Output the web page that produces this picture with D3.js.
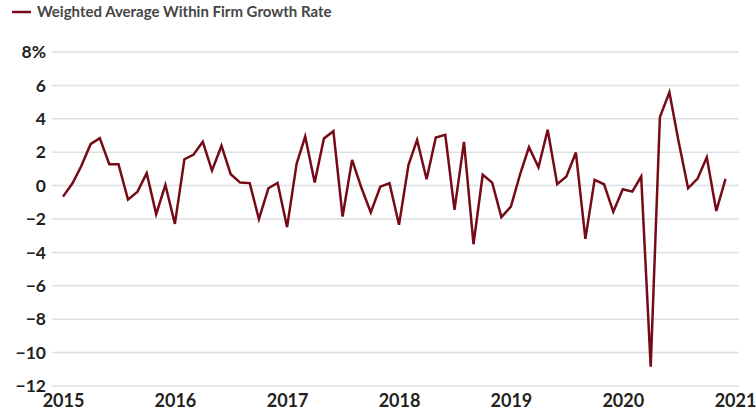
<!DOCTYPE html>
<html>
<head>
<meta charset="utf-8">
<script src="https://cdn.jsdelivr.net/npm/d3@7"></script>
<style>
  html, body { margin: 0; padding: 0; background: #fff; }
  svg { display: block; }
</style>
</head>
<body>
<svg id="chart" width="756" height="415"></svg>
<script>
// ---- data ----
const seriesName = "Weighted Average Within Firm Growth Rate";
const startYear = 2015;
const startMonth = 0; // January
const growthRate = [
  -0.66, 0.14, 1.14, 2.48, 2.84, 1.28, 1.28, -0.84, -0.36, 0.74, -1.71, 0.04,
  -2.29, 1.58, 1.84, 2.62, 0.90, 2.38, 0.68, 0.18, 0.15, -2.01, -0.16, 0.16,
  -2.49, 1.30, 2.94, 0.18, 2.82, 3.26, -1.85, 1.54, -0.16, -1.61, -0.06, 0.14,
  -2.35, 1.24, 2.74, 0.38, 2.88, 3.04, -1.45, 2.62, -3.51, 0.65, 0.18, -1.89,
  -1.26, 0.74, 2.30, 1.10, 3.34, 0.08, 0.54, 1.98, -3.19, 0.34, 0.08, -1.57,
  -0.22, -0.36, 0.54, -10.84, 4.10, 5.59, 2.64, -0.16, 0.42, 1.70, -1.52, 0.40
];
const yTicks = [-12, -10, -8, -6, -4, -2, 0, 2, 4, 6, 8];
const xTickYears = [2015, 2016, 2017, 2018, 2019, 2020, 2021];

// ---- build ----
const data = growthRate.map((v, i) => ({ date: new Date(startYear, startMonth + i, 1), value: v }));

const svg = d3.select("#chart");
const x = d3.scaleTime()
  .domain([new Date(2015, 0, 1), new Date(2021, 0, 1)])
  .range([63, 735]);
const y = d3.scaleLinear().domain([-12, 8]).range([386, 52]);

// gridlines
svg.append("g")
  .selectAll("line")
  .data(yTicks)
  .join("line")
  .attr("x1", 52).attr("x2", 739)
  .attr("y1", d => y(d)).attr("y2", d => y(d))
  .attr("stroke", "#dbe0e6")
  .attr("stroke-width", 1.5);

// y axis labels
const yAxis = svg.append("g")
  .attr("transform", "translate(46,0)")
  .call(d3.axisLeft(y).tickValues(yTicks).tickSize(0).tickPadding(0)
    .tickFormat(d => (d < 0 ? "\u2212" + Math.abs(d) : d) + (d === 8 ? "%" : "")));
yAxis.select(".domain").remove();
yAxis.selectAll("text")
  .attr("font-family", "Lato, 'Open Sans', sans-serif")
  .attr("font-size", 17.5)
  .attr("font-weight", 700)
  .attr("fill", "#231f20");

// x axis labels
const xAxis = svg.append("g")
  .attr("transform", "translate(0,394)")
  .call(d3.axisBottom(x).tickValues(xTickYears.map(yr => new Date(yr, 0, 1)))
    .tickSize(0).tickPadding(0).tickFormat(d3.timeFormat("%Y")));
xAxis.select(".domain").remove();
xAxis.selectAll("text")
  .attr("font-family", "Lato, 'Open Sans', sans-serif")
  .attr("font-size", 18)
  .attr("font-weight", 700)
  .attr("fill", "#231f20");

// line
const line = d3.line().x(d => x(d.date)).y(d => y(d.value));
svg.append("path")
  .datum(data)
  .attr("d", line)
  .attr("fill", "none")
  .attr("stroke", "#760a16")
  .attr("stroke-width", 2.5)
  .attr("stroke-linejoin", "miter");

// legend
const legend = svg.append("g");
legend.append("line")
  .attr("x1", 12).attr("x2", 31).attr("y1", 12).attr("y2", 12)
  .attr("stroke", "#760a16").attr("stroke-width", 2.5);
legend.append("text")
  .attr("x", 37).attr("y", 17)
  .attr("font-family", "Lato, 'Open Sans', sans-serif")
  .attr("font-size", 15)
  .attr("font-weight", 700)
  .attr("fill", "#454545")
  .text(seriesName);
</script>
</body>
</html>
